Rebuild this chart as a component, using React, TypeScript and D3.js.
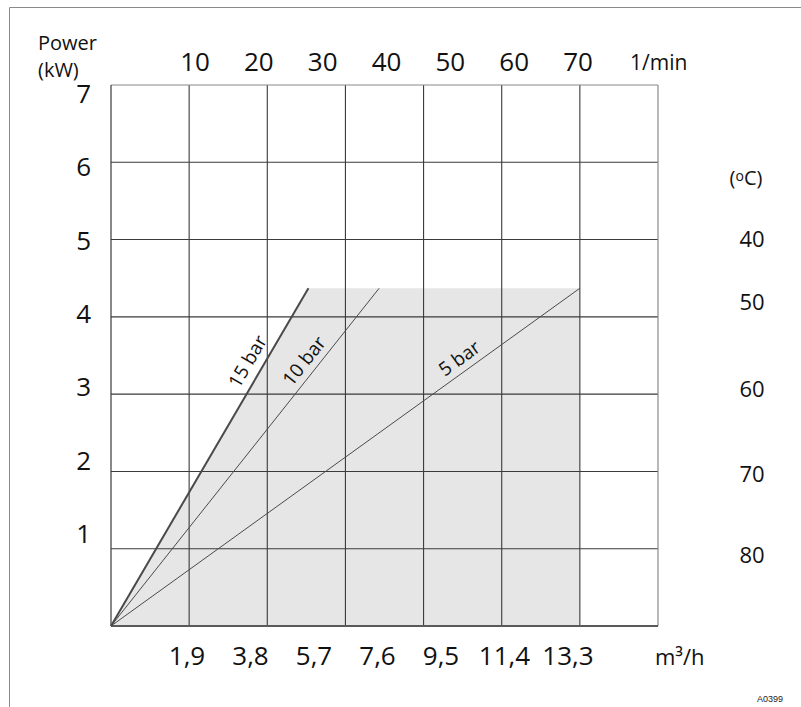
import React from 'react';
import * as d3 from 'd3';

// grid: 7 columns of 1.9 m3/h, 7 rows of 1 kW
const gridFlows = [0, 1.9, 3.8, 5.7, 7.6, 9.5, 11.4, 13.3];
const gridPowers = [0, 1, 2, 3, 4, 5, 6, 7];

// tick labels (they sit on their own spacing in the original sheet)
const flowLabels = ['1,9', '3,8', '5,7', '7,6', '9,5', '11,4', '13,3'];
const flowLabelValues = [1.9, 3.8, 5.7, 7.6, 9.5, 11.4, 13.3];
const rpmLabels = [10, 20, 30, 40, 50, 60, 70];
const powerLabels = [1, 2, 3, 4, 5, 6, 7];
const tempLabels = [40, 50, 60, 70, 80];
const tempAtPower = [4.9, 4.09, 2.96, 1.86, 0.82];

// pressure lines: flow at which each reaches the max power
const barNames = ['15 bar', '10 bar', '5 bar'];
const barEndFlow = [4.8, 6.52, 11.4];
const maxPower = 4.37;

const W = 801;
const H = 707;
const FONT = '"Open Sans", sans-serif';

export default function App() {
  const x = d3.scaleLinear().domain([0, 13.3]).range([111, 658]);
  const y = d3.scaleLinear().domain([0, 7]).range([626, 85]);
  const xLab = d3.scaleLinear().domain([1.9, 13.3]).range([187, 568]);
  const rpmLab = d3.scaleLinear().domain([10, 70]).range([195, 578]);
  const yLab = d3.scaleLinear().domain([1, 7]).range([543, 103]);

  const area = d3.line<[number, number]>().x(d => x(d[0])).y(d => y(d[1]));
  const shade: [number, number][] = [
    [0, 0],
    [barEndFlow[0], maxPower],
    [barEndFlow[barEndFlow.length - 1], maxPower],
    [barEndFlow[barEndFlow.length - 1], 0],
  ];

  const inner = gridFlows.slice(1, -1);
  const innerP = gridPowers.slice(1, -1);

  return (
    <svg width={W} height={H} style={{ position: 'absolute', left: 0, top: 0, background: '#fff' }}>
      {/* sheet frame */}
      <path d={`M9.5,${H} V7.5 H${W}`} fill="none" stroke="#8a8a8a" strokeWidth={1} />

      <path d={area(shade) + 'Z'} fill="#e6e6e6" />

      {inner.map(f => (
        <line key={'v' + f} x1={x(f)} x2={x(f)} y1={y(7)} y2={y(0)} stroke="#3a3a3a" strokeWidth={1.1} />
      ))}
      {innerP.map(p => (
        <line key={'h' + p} x1={x(0)} x2={x(13.3)} y1={y(p)} y2={y(p)} stroke="#3a3a3a" strokeWidth={1.1} />
      ))}
      {/* borders */}
      <line x1={x(0)} x2={x(13.3)} y1={y(7)} y2={y(7)} stroke="#8a8a8a" strokeWidth={1.2} />
      <line x1={x(13.3)} x2={x(13.3)} y1={y(7)} y2={y(0)} stroke="#8a8a8a" strokeWidth={1.2} />
      <line x1={x(0)} x2={x(0)} y1={y(7)} y2={y(0)} stroke="#3a3a3a" strokeWidth={1.2} />
      <line x1={x(0)} x2={x(13.3)} y1={y(0)} y2={y(0)} stroke="#5a5a5a" strokeWidth={2} />

      {barEndFlow.map((f, i) => {
        const x0 = x(0), y0 = y(0), x1 = x(f), y1 = y(maxPower);
        const ang = (Math.atan2(y1 - y0, x1 - x0) * 180) / Math.PI;
        const t = 0.76;
        const px = x0 + (x1 - x0) * t;
        const py = y0 + (y1 - y0) * t;
        return (
          <g key={barNames[i]}>
            <line x1={x0} y1={y0} x2={x1} y2={y1} stroke="#4a4a4a" strokeWidth={i === 0 ? 2 : 1} />
            <text
              transform={`translate(${px},${py}) rotate(${ang})`}
              y={i === 0 ? -9 : -7}
              textAnchor="middle"
              fontFamily={FONT}
              fontSize={19}
              fill="#111"
            >
              {barNames[i]}
            </text>
          </g>
        );
      })}

      {/* left power axis */}
      <text x={38} y={50} fontFamily={FONT} fontSize={20} fill="#111">Power</text>
      <text x={38} y={77} fontFamily={FONT} fontSize={20} fill="#111">(kW)</text>
      {powerLabels.map(p => (
        <text key={'pl' + p} x={91} y={yLab(p)} textAnchor="end" fontFamily={FONT} fontSize={26} fill="#111">
          {p}
        </text>
      ))}

      {/* top rpm axis */}
      {rpmLabels.map(r => (
        <text key={'r' + r} x={rpmLab(r)} y={71} textAnchor="middle" fontFamily={FONT} fontSize={26} fill="#111">
          {r}
        </text>
      ))}
      <text x={630} y={70} fontFamily={FONT} fontSize={21} fill="#111">1/min</text>

      {/* bottom flow axis */}
      {flowLabelValues.map((v, i) => (
        <text key={'f' + v} x={xLab(v)} y={665} textAnchor="middle" fontFamily={FONT} fontSize={26} fill="#111">
          {flowLabels[i]}
        </text>
      ))}
      <text x={655} y={665} fontFamily={FONT} fontSize={22} fill="#111">
        m³/h
      </text>

      {/* right temperature labels */}
      <text x={746} y={185} textAnchor="middle" fontFamily={FONT} fontSize={20} fill="#111">
        (
        <tspan fontSize={14} dy={-4}>o</tspan>
        <tspan dy={4}>C)</tspan>
      </text>
      {tempLabels.map((tl, i) => (
        <text key={'t' + tl} x={752} y={y(tempAtPower[i])} textAnchor="middle" fontFamily={FONT} fontSize={22} fill="#111">
          {tl}
        </text>
      ))}

      <text x={783} y={702} textAnchor="end" fontFamily='"Liberation Sans", Arial, sans-serif' fontSize={9} fill="#222">
        A0399
      </text>
    </svg>
  );
}
